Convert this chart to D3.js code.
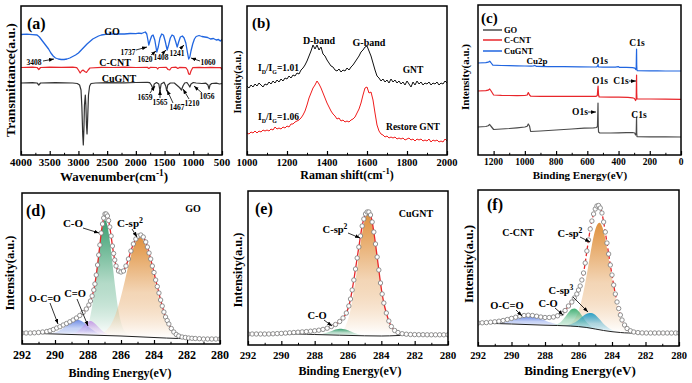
<!DOCTYPE html>
<html><head><meta charset="utf-8">
<script src="https://cdn.jsdelivr.net/npm/d3@7"></script>
<style>
html,body{margin:0;padding:0;background:#fff;}
svg{display:block;font-family:"Liberation Serif","Times New Roman",serif;font-weight:bold;}
</style></head><body>
<svg id="chart" width="692" height="383"></svg>
<script>
// ---------------- DATA ----------------
// (a) FTIR: [wavenumber, transmittance a.u.]
const ftirGO = [[4000,120.5],[3900,120.8],[3800,120.3],[3720,120],[3680,118],[3640,115],[3600,112],[3560,109],[3520,106],[3480,102],[3440,99],[3400,97],[3350,96],[3300,95.5],[3250,95.5],[3200,96],[3150,97],[3100,98.5],[3050,100],[3000,102],[2950,105],[2900,108],[2850,111],[2800,113.5],[2750,116],[2700,117.5],[2650,119],[2600,120],[2500,120.8],[2400,121],[2300,121.2],[2200,121],[2100,121.5],[2000,121.3],[1950,121.8],[1900,121.5],[1860,122.5],[1835,123],[1810,121],[1790,115],[1775,110],[1755,114],[1725,119],[1700,120],[1670,115],[1635,103],[1610,108],[1580,117],[1550,121],[1520,120],[1490,114],[1455,105],[1430,110],[1400,117],[1370,120],[1340,119],[1310,114],[1280,108],[1255,113],[1225,118],[1190,119],[1160,117],[1130,112],[1100,102],[1080,96],[1060,98],[1040,104],[1010,111],[980,116],[950,118.5],[900,119.5],[850,118.5],[800,118],[750,117.5],[700,116],[650,116.5],[600,115],[560,115.5],[530,114],[500,115.5]];
const ftirCCNT = [[4000,87.5],[3800,87.8],[3720,87.5],[3690,85.5],[3660,87.5],[3500,87.8],[3300,87.6],[3100,87.8],[3030,87.3],[3000,85],[2970,82],[2945,84],[2920,85],[2890,83.5],[2860,82.5],[2830,85],[2800,87],[2600,87.6],[2400,87.5],[2200,87.8],[2000,87.5],[1800,87.7],[1775,86.5],[1750,87.6],[1640,87.5],[1620,86],[1600,87.5],[1470,87.6],[1440,85.5],[1410,85],[1380,87.5],[1300,87.8],[1270,86.5],[1240,87.6],[1130,87.3],[1100,85],[1080,81],[1060,80.5],[1040,84],[1010,87.3],[900,87.6],[800,87.4],[700,87.6],[600,87.3],[520,87.5],[505,85.5],[500,87]];
const ftirCuGNT = [[4000,72],[3800,72.3],[3720,72],[3690,70],[3660,72],[3400,72.3],[3100,72],[3020,71.5],[2980,70],[2955,65],[2940,48],[2925,20],[2915,10],[2905,25],[2895,50],[2880,60],[2870,50],[2860,30],[2850,21],[2840,35],[2825,60],[2805,69],[2780,71.5],[2700,72],[2500,72.3],[2200,72.2],[2000,72.5],[1800,72.6],[1760,72.3],[1730,70],[1700,66],[1680,71],[1640,72.5],[1600,71],[1580,64],[1560,71],[1510,72.8],[1480,69],[1463,64],[1445,70],[1400,72],[1330,72],[1290,70],[1240,67.5],[1205,65],[1180,69],[1150,72],[1110,72.5],[1080,70],[1060,68],[1040,71],[1000,72.5],[950,72],[850,71.5],[780,71.8],[745,70],[725,66],[710,70],[680,71.5],[600,71.8],[540,71],[500,71.5]];
const ftirTicks = [4000,3500,3000,2500,2000,1500,1000,500];

// (b) Raman: shift grid and intensities
const ramanShift = d3.range(1000, 2001, 10);
const ramanGNT = [69,67,70,68,71,69,72,70,68,71,70,73,71,74,72,75,73,76,74,77,76,79,77,80,79,82,81,85,87,90,94,99,104,110,106,110,105,108,101,99,95,92,89,88,85,84,86,83,85,84,87,85,88,90,93,96,99,103,105,108,109,104,99,92,85,79,77,74,76,73,75,72,76,73,75,72,74,71,73,70,74,71,68,73,70,74,71,73,70,72,71,73,70,72,71,73,70,72,71,74,72];
const ramanRestore = [22,21,23,22,24,22,24,23,25,24,25,24,26,25,28,26,27,26,28,27,29,28,31,31,33,34,35,37,40,44,50,57,62,67,70,74,71,67,62,57,52,48,44,41,39,36,37,34,35,33,34,33,35,36,38,42,46,52,60,67,68,62,63,55,42,30,24,21,20,18,19,17,18,17,18,16,17,16,17,15,16,17,15,16,14,16,15,16,14,15,14,16,13,15,14,15,13,14,13,16,14];
const ramanTicks = [1000,1200,1400,1600,1800,2000];

// (c) XPS survey: [binding energy, intensity]
const surveyCuGNT = [[1300,92],[1250,92.3],[1235,92.8],[1225,93.8],[1218,92.5],[1205,89.8],[1150,89.5],[1100,89.3],[1050,89.2],[1000,89],[960,88.8],[945,89.2],[935,89.6],[925,88.6],[850,88.4],[750,88.3],[650,88.1],[560,88],[540,88],[534,89],[531,90.5],[528,88],[500,87.9],[420,87.8],[402,88.4],[395,87.7],[350,87.6],[310,87.4],[295,86.8],[290,85.5],[287,87],[285.5,100],[284.5,106],[283.5,90],[282,85],[280,84.3],[200,84.2],[150,84.1],[100,84],[50,84],[0,84]];
const surveyCCNT = [[1300,64],[1250,64.3],[1235,64.8],[1225,66],[1218,64.5],[1200,60],[1150,59.6],[1100,59.5],[1050,59.4],[1000,59.5],[985,60],[978,62.5],[970,60],[962,58.8],[900,58.7],[800,58.7],[700,58.6],[600,58.6],[545,58.6],[536,59.5],[533,66],[531,69],[528,60],[524,58],[450,57.9],[400,57.9],[340,57.6],[310,57.2],[298,56.5],[291,54.5],[287,56],[285.5,72],[284.5,80],[283.5,62],[282,56.2],[280,56],[200,56],[100,55.8],[0,55.6]];
const surveyGO = [[1300,28],[1250,28.5],[1235,29.2],[1225,30.5],[1218,29],[1200,25.5],[1150,26],[1100,26.5],[1050,27.2],[1000,28],[985,28.8],[978,31],[970,29],[963,23.5],[900,24],[800,25],[700,26],[620,26.8],[560,27.2],[540,27.5],[535,29],[532.5,45],[531.5,52],[530,30],[528,23],[520,22],[450,22],[400,22.2],[350,22.3],[310,22.5],[296,22],[291,20],[287,21],[285.5,32],[284.5,38],[283.5,22],[282,18.5],[280,18.3],[200,18.2],[100,18.1],[0,18]];
const surveyTicks = [1200,1000,800,600,400,200,0];

// C1s high resolution: [binding energy, intensity]
const c1sTicks = [292,290,288,286,284,282,280];
// (d) GO
const dEnvelope = [[292,11],[291.75,11],[291.5,11],[291.25,11.2],[291,11.5],[290.75,12],[290.5,12.5],[290.3,13.3],[290.1,14.5],[289.9,16],[289.7,17.3],[289.5,19],[289.3,20.5],[289.1,22.2],[288.9,24],[288.7,26],[288.5,28.5],[288.3,31.5],[288.1,35],[287.95,39],[287.85,43],[287.75,48],[287.65,54],[287.58,60],[287.5,69],[287.42,79],[287.35,89],[287.28,99],[287.2,111],[287.12,120],[287.05,126],[286.97,130],[286.9,130],[286.82,128],[286.75,123.5],[286.68,117],[286.6,108],[286.52,98],[286.45,90.5],[286.38,84],[286.3,78],[286.15,73],[286,72],[285.85,73],[285.7,78],[285.55,85],[285.4,93],[285.25,100],[285.1,105],[284.95,108],[284.8,109],[284.65,107],[284.5,102],[284.4,97],[284.3,91],[284.2,85],[284.1,78],[284,71.5],[283.9,64],[283.8,57.5],[283.7,51],[283.6,44],[283.5,38],[283.4,32],[283.3,27],[283.2,23.5],[283.1,20],[282.95,15.5],[282.8,12],[282.65,9.5],[282.5,8],[282.3,7],[282.1,6.5],[281.9,6],[281.7,5.7],[281.5,5.5],[281.25,5.3],[281,5],[280.75,5],[280.5,5],[280.25,5],[280,5]];
const dBaseline = [[292,11],[290,10],[288,9],[286,8],[284,6.5],[282.5,5.5],[280,5]];
const dCO = [[288.57,9.6],[288.27,11.5],[288.07,16.2],[287.87,26.9],[287.72,40.7],[287.57,59.6],[287.42,81.5],[287.27,102.2],[287.12,118.3],[286.97,124],[286.82,118.2],[286.67,102],[286.52,81.2],[286.37,59.2],[286.22,40.1],[286.07,26.3],[285.87,15.4],[285.67,10.5],[285.37,8.3]];
const dCsp2 = [[287.65,8.7],[287.25,9.9],[286.85,14.3],[286.6,19.8],[286.35,28.7],[286.1,41.4],[285.85,57.4],[285.6,74.9],[285.35,91.2],[285.1,102.8],[284.85,106.8],[284.6,102.5],[284.35,90.6],[284.1,74.1],[283.85,56.3],[283.6,40],[283.35,27],[283.1,17.9],[282.85,11.95],[282.45,7.3],[282.05,5.8]];
const dOCO = [[290.55,10.5],[290.15,11],[289.85,12.4],[289.55,15.3],[289.25,19.2],[288.95,22.9],[288.65,24.3],[288.35,22.6],[288.05,18.6],[287.75,14.4],[287.45,11.2],[287.15,9.5],[286.75,8.6]];
const dCdO = [[289.15,9.5],[288.95,10.2],[288.75,11.3],[288.6,13.1],[288.45,15.3],[288.3,17.8],[288.15,20.2],[288,22.2],[287.85,22.9],[287.7,22.1],[287.55,20],[287.4,17.5],[287.25,14.9],[287.1,12.7],[286.95,11],[286.75,9.6],[286.55,8.9]];
// (e) CuGNT
const eEnvelope = [[292,11],[291.75,11],[291.5,11],[291.25,11],[291,11],[290.75,11],[290.5,11.2],[290.25,11.4],[290,11.6],[289.75,11.9],[289.5,12.2],[289.25,12.5],[289,12.8],[288.75,13.1],[288.5,13.4],[288.25,13.8],[288,14.2],[287.75,14.8],[287.5,15.6],[287.25,16.8],[287,18.5],[286.75,20.5],[286.5,23.5],[286.3,27],[286.1,32],[285.95,39],[285.85,46],[285.75,55],[285.65,65],[285.55,76],[285.45,87],[285.35,98],[285.25,109],[285.15,119],[285.05,126],[284.95,131],[284.85,133],[284.75,133],[284.65,130],[284.55,123],[284.45,113],[284.35,101],[284.25,88],[284.15,75],[284.05,62],[283.95,51],[283.85,42],[283.7,32],[283.55,24],[283.4,18.5],[283.2,14.5],[283,12.5],[282.75,11.3],[282.5,10.8],[282.25,10.5],[282,10.4],[281.75,10.3],[281.5,10.3],[281.25,10.2],[281,10.2],[280.75,10.2],[280.5,10.2],[280.25,10.2],[280,10.2]];
const eBaseline = [[292,11],[289,11],[288,10.5],[286.5,9.8],[285,9.2],[284,9],[283,9.5],[282.5,10],[280,10.2]];
const eCsp2 = [[286.76,10.3],[286.48,11.9],[286.2,17.2],[286.03,24.1],[285.85,35.1],[285.68,50.8],[285.5,70.4],[285.33,91.9],[285.15,111.9],[284.98,126.1],[284.8,131.2],[284.63,126],[284.45,111.7],[284.28,91.6],[284.1,70],[283.93,50.5],[283.75,34.7],[283.58,23.8],[283.4,16.8],[283.12,11.6],[282.84,10.2]];
const eCO = [[288.08,10.3],[287.8,10.6],[287.63,10.9],[287.45,11.6],[287.1,13.3],[286.93,14.3],[286.75,15.4],[286.58,16],[286.4,16.2],[286.23,15.8],[286.05,15],[285.88,13.8],[285.7,12.6],[285.53,11.4],[285.35,10.5],[285,9.6]];
// (f) C-CNT
const fEnvelope = [[292,24],[291.75,24.2],[291.5,24.4],[291.25,24.8],[291,25.2],[290.75,25.8],[290.5,26.5],[290.25,27.5],[290,28.6],[289.75,29.8],[289.5,30.8],[289.25,31.5],[289,31.8],[288.75,31.5],[288.5,30.8],[288.25,30],[288,29.5],[287.75,29.5],[287.5,30],[287.25,31.2],[287,33.5],[286.8,36.5],[286.6,41],[286.4,45],[286.25,49],[286.1,53],[286,57],[285.9,61],[285.8,67],[285.7,74],[285.6,84],[285.5,96],[285.4,107],[285.3,118],[285.2,126],[285.1,133],[285,138],[284.9,141],[284.8,141.5],[284.7,139],[284.6,134],[284.5,125],[284.4,115],[284.3,104],[284.2,93],[284.1,82],[284,72],[283.9,62],[283.8,53],[283.7,45],[283.6,38.5],[283.5,32],[283.4,27],[283.25,22],[283.1,18.5],[282.9,16.2],[282.7,15],[282.45,14.4],[282.2,14.1],[281.95,14],[281.7,14],[281.45,14],[281.2,14],[280.95,14],[280.7,14],[280.45,14],[280.2,14],[280,14]];
const fBaseline = [[292,24],[290,23],[288,21.8],[286.5,21],[285.5,19.5],[285,18],[284.5,16.5],[284,15.3],[283.5,14.5],[283,14],[280,14]];
const fCsp2 = [[286.85,21.7],[286.55,22.9],[286.25,27.4],[286.06,33.3],[285.875,42.8],[285.69,56.3],[285.5,73],[285.31,91.4],[285.125,108.4],[284.94,120.3],[284.75,124.2],[284.56,119.2],[284.375,106.1],[284.19,88.1],[284,68.8],[283.81,51.3],[283.625,37.2],[283.44,27.2],[283.25,20.9],[282.95,15.9],[282.65,14.5]];
const fCsp3 = [[286.93,21.4],[286.65,21.9],[286.475,22.7],[286.3,23.9],[286.125,25.6],[285.95,27.8],[285.775,30.3],[285.6,32.4],[285.425,33.8],[285.25,34],[285.075,32.9],[284.9,30.5],[284.725,27.5],[284.55,24.1],[284.375,21.3],[284.2,18.9],[284.025,17.2],[283.85,16],[283.57,14.9]];
const fCO = [[287.55,22],[287.35,22.5],[287.15,24],[287,26.1],[286.85,29],[286.7,32.3],[286.55,35.5],[286.4,37.9],[286.25,38.6],[286.1,37.6],[285.95,34.9],[285.8,31.4],[285.65,27.8],[285.5,24.5],[285.35,22],[285.15,19.8],[284.95,18.4]];
const fOCO = [[291.3,23.75],[290.9,23.9],[290.65,24.3],[290.4,24.9],[290.15,25.8],[289.9,27],[289.65,28.2],[289.4,29.4],[289.15,30.3],[288.9,30.4],[288.65,30],[288.4,28.8],[288.15,27.4],[287.9,25.8],[287.65,24.4],[287.4,23.2],[287.15,22.3],[286.9,21.65],[286.5,21.15]];

// ---------------- DRAWING ----------------
const svg = d3.select('#chart');
const defs = svg.append('defs');
defs.append('marker').attr('id','arr').attr('viewBox','0 0 8 6').attr('refX',8).attr('refY',3)
  .attr('markerWidth',5).attr('markerHeight',4).attr('markerUnits','userSpaceOnUse').attr('orient','auto')
  .append('path').attr('d','M0,0L8,3L0,6Z').attr('fill','#000');
function grad(id,color,top){
  const lg = defs.append('linearGradient').attr('id',id).attr('x1',0).attr('y1',0).attr('x2',0).attr('y2',1);
  lg.append('stop').attr('offset',0).attr('stop-color',color).attr('stop-opacity',top);
  lg.append('stop').attr('offset',0.55).attr('stop-color',color).attr('stop-opacity',top*0.38);
  lg.append('stop').attr('offset',1).attr('stop-color','#ffffff').attr('stop-opacity',0.6);
}
grad('gGreen','#2f9a68',0.95); grad('gOrange','#de8c35',0.95); grad('gBlue','#4a70e0',0.8); grad('gPurple','#c08ae6',0.8);
grad('gTeal','#1598c4',0.9); grad('gGreen2','#2fa866',0.9);

let clipN = 0;
function panel(c){
  const g = svg.append('g');
  const x = d3.scaleLinear().domain(c.xDomain).range([c.left,c.right]);
  const y = d3.scaleLinear().domain([0,100]).range([c.base,c.base-100]);
  const id = 'clip'+(clipN++);
  defs.append('clipPath').attr('id',id).append('rect').attr('x',c.left).attr('y',c.top)
    .attr('width',c.right-c.left).attr('height',c.bottom-c.top);
  const data = g.append('g').attr('clip-path',`url(#${id})`);
  const ax = g.append('g').attr('transform',`translate(0,${c.bottom})`)
    .call(d3.axisBottom(x).tickValues(c.major).tickSize(-4).tickFormat(''));
  ax.select('.domain').remove();
  ax.selectAll('line').attr('stroke','#000').attr('stroke-width',1.2);
  const am = g.append('g').attr('transform',`translate(0,${c.bottom})`)
    .call(d3.axisBottom(x).tickValues(c.minor).tickSize(-2.2).tickFormat(''));
  am.select('.domain').remove();
  am.selectAll('line').attr('stroke','#000').attr('stroke-width',1);
  g.append('g').selectAll('text').data(c.major).join('text')
    .attr('x',d=>x(d)).attr('y',c.labelY+0.35*c.tickFont).attr('text-anchor','middle')
    .attr('font-size',c.tickFont).attr('fill','#000').text(d=>d);
  g.append('rect').attr('x',c.left).attr('y',c.top).attr('width',c.right-c.left).attr('height',c.bottom-c.top)
    .attr('fill','none').attr('stroke','#000').attr('stroke-width',1.5);
  const ann = g.append('g');
  return {x,y,data,ann,g};
}
function label(g,cx,cy,parts,size,anchor='middle',fill='#000',rot=false){
  const t = g.append('text').attr('x',cx).attr('y',cy+0.35*size).attr('text-anchor',anchor)
    .attr('font-size',size).attr('fill',fill);
  if(rot) t.attr('transform',`rotate(-90,${cx},${cy})`);
  (Array.isArray(parts)?parts:[[parts]]).forEach(p=>{
    const s = t.append('tspan').text(p[0]);
    if(p[1]==='sup') s.attr('baseline-shift','super').attr('font-size',size*0.72);
    if(p[1]==='sub') s.attr('baseline-shift','sub').attr('font-size',size*0.62);
  });
  return t;
}
function arrow(g,x1,y1,x2,y2){
  g.append('line').attr('x1',x1).attr('y1',y1).attr('x2',x2).attr('y2',y2)
    .attr('stroke','#000').attr('stroke-width',0.8).attr('marker-end','url(#arr)');
}
const lin = (p)=>d3.line().x(d=>p.x(d[0])).y(d=>p.y(d[1]));
const smooth = (p)=>d3.line().x(d=>p.x(d[0])).y(d=>p.y(d[1])).curve(d3.curveMonotoneX);
function curve(p,data,color,w,fn){
  p.data.append('path').attr('d',(fn||lin)(p)(data)).attr('fill','none').attr('stroke',color)
    .attr('stroke-width',w).attr('stroke-linejoin','round');
}

// ---- (a) ----
const A = panel({left:21,right:222,top:6,bottom:155,base:155,xDomain:[4000,500],major:ftirTicks,
  minor:[3750,3250,2750,2250,1750,1250,750],tickFont:11,labelY:162});
curve(A,ftirGO,'#2166e0',1.3);
curve(A,ftirCCNT,'#e8262b',1.2);
curve(A,ftirCuGNT,'#333333',1.2);
label(A.ann,27,23,'(a)',16,'start');
label(A.ann,112,31,'GO',10);
label(A.ann,115,62,'C-CNT',10);
label(A.ann,119,78,'CuGNT',10);
label(A.ann,34,62,'3408',7.5); arrow(A.ann,43,61,54,59);
label(A.ann,128,52,'1737',7.5); arrow(A.ann,136,50,147,47);
label(A.ann,145,59,'1620',7.5); arrow(A.ann,151,55,156,51);
label(A.ann,161,57,'1408',7.5); arrow(A.ann,163,53,166,50);
label(A.ann,177,53,'1241',7.5); arrow(A.ann,180,49,184,45);
label(A.ann,208,62,'1060',7.5); arrow(A.ann,200,61,191,58);
label(A.ann,145,97,'1659',7.5); arrow(A.ann,150,93,155,86);
label(A.ann,160,102,'1565',7.5); arrow(A.ann,160,98,160,90);
label(A.ann,177,107,'1467',7.5); arrow(A.ann,173,103,167,90);
label(A.ann,192,103,'1210',7.5); arrow(A.ann,189,99,183,89);
label(A.ann,207,96,'1056',7.5); arrow(A.ann,202,93,194,86);
label(A.ann,114,176,[['Wavenumber(cm'],['-1','sup'],[')']],13);
label(A.ann,10,80,'Transmittance(a.u.)',13.5,'middle','#000',true);

// ---- (b) ----
const B = panel({left:247,right:447,top:6,bottom:155,base:155,xDomain:[1000,2000],major:ramanTicks,
  minor:[1100,1300,1500,1700,1900],tickFont:10.5,labelY:162});
curve(B,ramanShift.map((s,i)=>[s,ramanGNT[i]]),'#111',1);
curve(B,ramanShift.map((s,i)=>[s,ramanRestore[i]]),'#f01c1c',1);
label(B.ann,252,23,'(b)',15,'start');
label(B.ann,319,40,'D-band',10);
label(B.ann,369,42,'G-band',10);
label(B.ann,258,68,[['I'],['D','sub'],['/I'],['G','sub'],['=1.01']],9.5,'start');
label(B.ann,258,117,[['I'],['D','sub'],['/I'],['G','sub'],['=1.06']],9.5,'start');
label(B.ann,413,70,'GNT',9.5);
label(B.ann,413,127,'Restore GNT',9.5);
label(B.ann,347,175,[['Raman shift(cm'],['-1','sup'],[')']],12);
label(B.ann,237,82,'Intensity(a.u.)',10.5,'middle','#000',true);

// ---- (c) ----
const C = panel({left:478,right:681,top:5,bottom:155,base:155,xDomain:[1300,0],major:surveyTicks,
  minor:[1100,900,700,500,300,100],tickFont:9.5,labelY:162});
curve(C,surveyCuGNT,'#2166e0',1.2);
curve(C,surveyCCNT,'#e8262b',1.2);
curve(C,surveyGO,'#4a4a4a',1.2);
label(C.ann,481,18,'(c)',15,'start');
[['GO','#4a4a4a',30],['C-CNT','#e8262b',40],['CuGNT','#2166e0',51]].forEach(l=>{
  C.ann.append('line').attr('x1',483).attr('x2',502).attr('y1',l[2]).attr('y2',l[2]).attr('stroke',l[1]).attr('stroke-width',1.5);
  label(C.ann,504,l[2],l[0],8.5,'start');
});
label(C.ann,537,61,'Cu2p',9);
label(C.ann,600,61,'O1s',9.5);
label(C.ann,637,43,'C1s',9.5);
label(C.ann,600,81,'O1s',9.5);
label(C.ann,621,81,'C1s',9.5); arrow(C.ann,629,81,636,81);
label(C.ann,580,112,'O1s',9.5); arrow(C.ann,588,112,596,112);
label(C.ann,639,115,'C1s',9.5);
label(C.ann,580,175,'Binding Energy(eV)',11);
label(C.ann,465,77,'Intensity(a.u.)',11,'middle','#000',true);

// ---- C1s helper ----
function comp(p,data,gid){
  p.data.append('path').attr('d',smooth(p)(data)+'Z').attr('fill',`url(#${gid})`).attr('stroke','none');
}
function envelope(p,env,base,dashed){
  curve(p,base,'#222',1,smooth);
  p.data.append('path').attr('d',smooth(p)(env)).attr('fill','none').attr('stroke','#e8272a')
    .attr('stroke-width',1.3).attr('stroke-dasharray',dashed?'4,2.5':null);
  p.data.append('g').selectAll('circle').data(env).join('circle')
    .attr('cx',d=>p.x(d[0])).attr('cy',d=>p.y(d[1])).attr('r',2.2)
    .attr('fill','#fff').attr('stroke','#777').attr('stroke-width',0.8);
}

// ---- (d) ----
const D = panel({left:22,right:220,top:193,bottom:344,base:344,xDomain:[292,280],major:c1sTicks,
  minor:[291,289,287,285,283,281],tickFont:12,labelY:355});
comp(D,dCO,'gGreen'); comp(D,dCsp2,'gOrange'); comp(D,dOCO,'gBlue'); comp(D,dCdO,'gPurple');
envelope(D,dEnvelope,dBaseline,false);
label(D.ann,26,210,'(d)',16,'start');
label(D.ann,193,208,'GO',10);
label(D.ann,73,223,'C-O',11); arrow(D.ann,83,228,99,233);
label(D.ann,130,223,[['C-sp'],['2','sup']],11); arrow(D.ann,132,229,137,237);
label(D.ann,45,298,'O-C=O',10); arrow(D.ann,50,303,58,324);
label(D.ann,75,293,'C=O',10.5); arrow(D.ann,77,299,88,326);
label(D.ann,120,373,'Binding Energy(eV)',12);
label(D.ann,10,273,'Intensity(a.u.)',12.5,'middle','#000',true);

// ---- (e) ----
const E = panel({left:248,right:448,top:191,bottom:345,base:345,xDomain:[292,280],major:c1sTicks,
  minor:[291,289,287,285,283,281],tickFont:11,labelY:355});
comp(E,eCsp2,'gOrange'); comp(E,eCO,'gGreen');
envelope(E,eEnvelope,eBaseline,false);
label(E.ann,255,208,'(e)',16,'start');
label(E.ann,416,213,'CuGNT',10);
label(E.ann,335,229,[['C-sp'],['2','sup']],10.5); arrow(E.ann,348,233,360,238);
label(E.ann,317,315,'C-O',10.5); arrow(E.ann,324,320,332,326);
label(E.ann,350,371,'Binding Energy(eV)',12);
label(E.ann,238,270,'Intensity(a.u.)',12.5,'middle','#000',true);

// ---- (f) ----
const F = panel({left:478,right:679,top:190,bottom:346,base:347,xDomain:[292,280],major:c1sTicks,
  minor:[291,289,287,285,283,281],tickFont:10.5,labelY:355});
comp(F,fOCO,'gBlue'); comp(F,fCsp2,'gOrange'); comp(F,fCO,'gGreen2'); comp(F,fCsp3,'gTeal');
envelope(F,fEnvelope,fBaseline,true);
label(F.ann,487,204,'(f)',16,'start');
label(F.ann,518,232,'C-CNT',10);
label(F.ann,570,233,[['C-sp'],['2','sup']],10.5); arrow(F.ann,580,237,590,242);
label(F.ann,561,290,[['C-sp'],['3','sup']],10.5); arrow(F.ann,573,297,588,312);
label(F.ann,548,303,'C-O',10.5); arrow(F.ann,555,308,563,315);
label(F.ann,507,305,'O-C=O',10.5); arrow(F.ann,516,310,522,316);
label(F.ann,580,370,'Binding Energy(eV)',13);
label(F.ann,468,264,'Intensity(a.u.)',13,'middle','#000',true);
</script>
</body></html>
